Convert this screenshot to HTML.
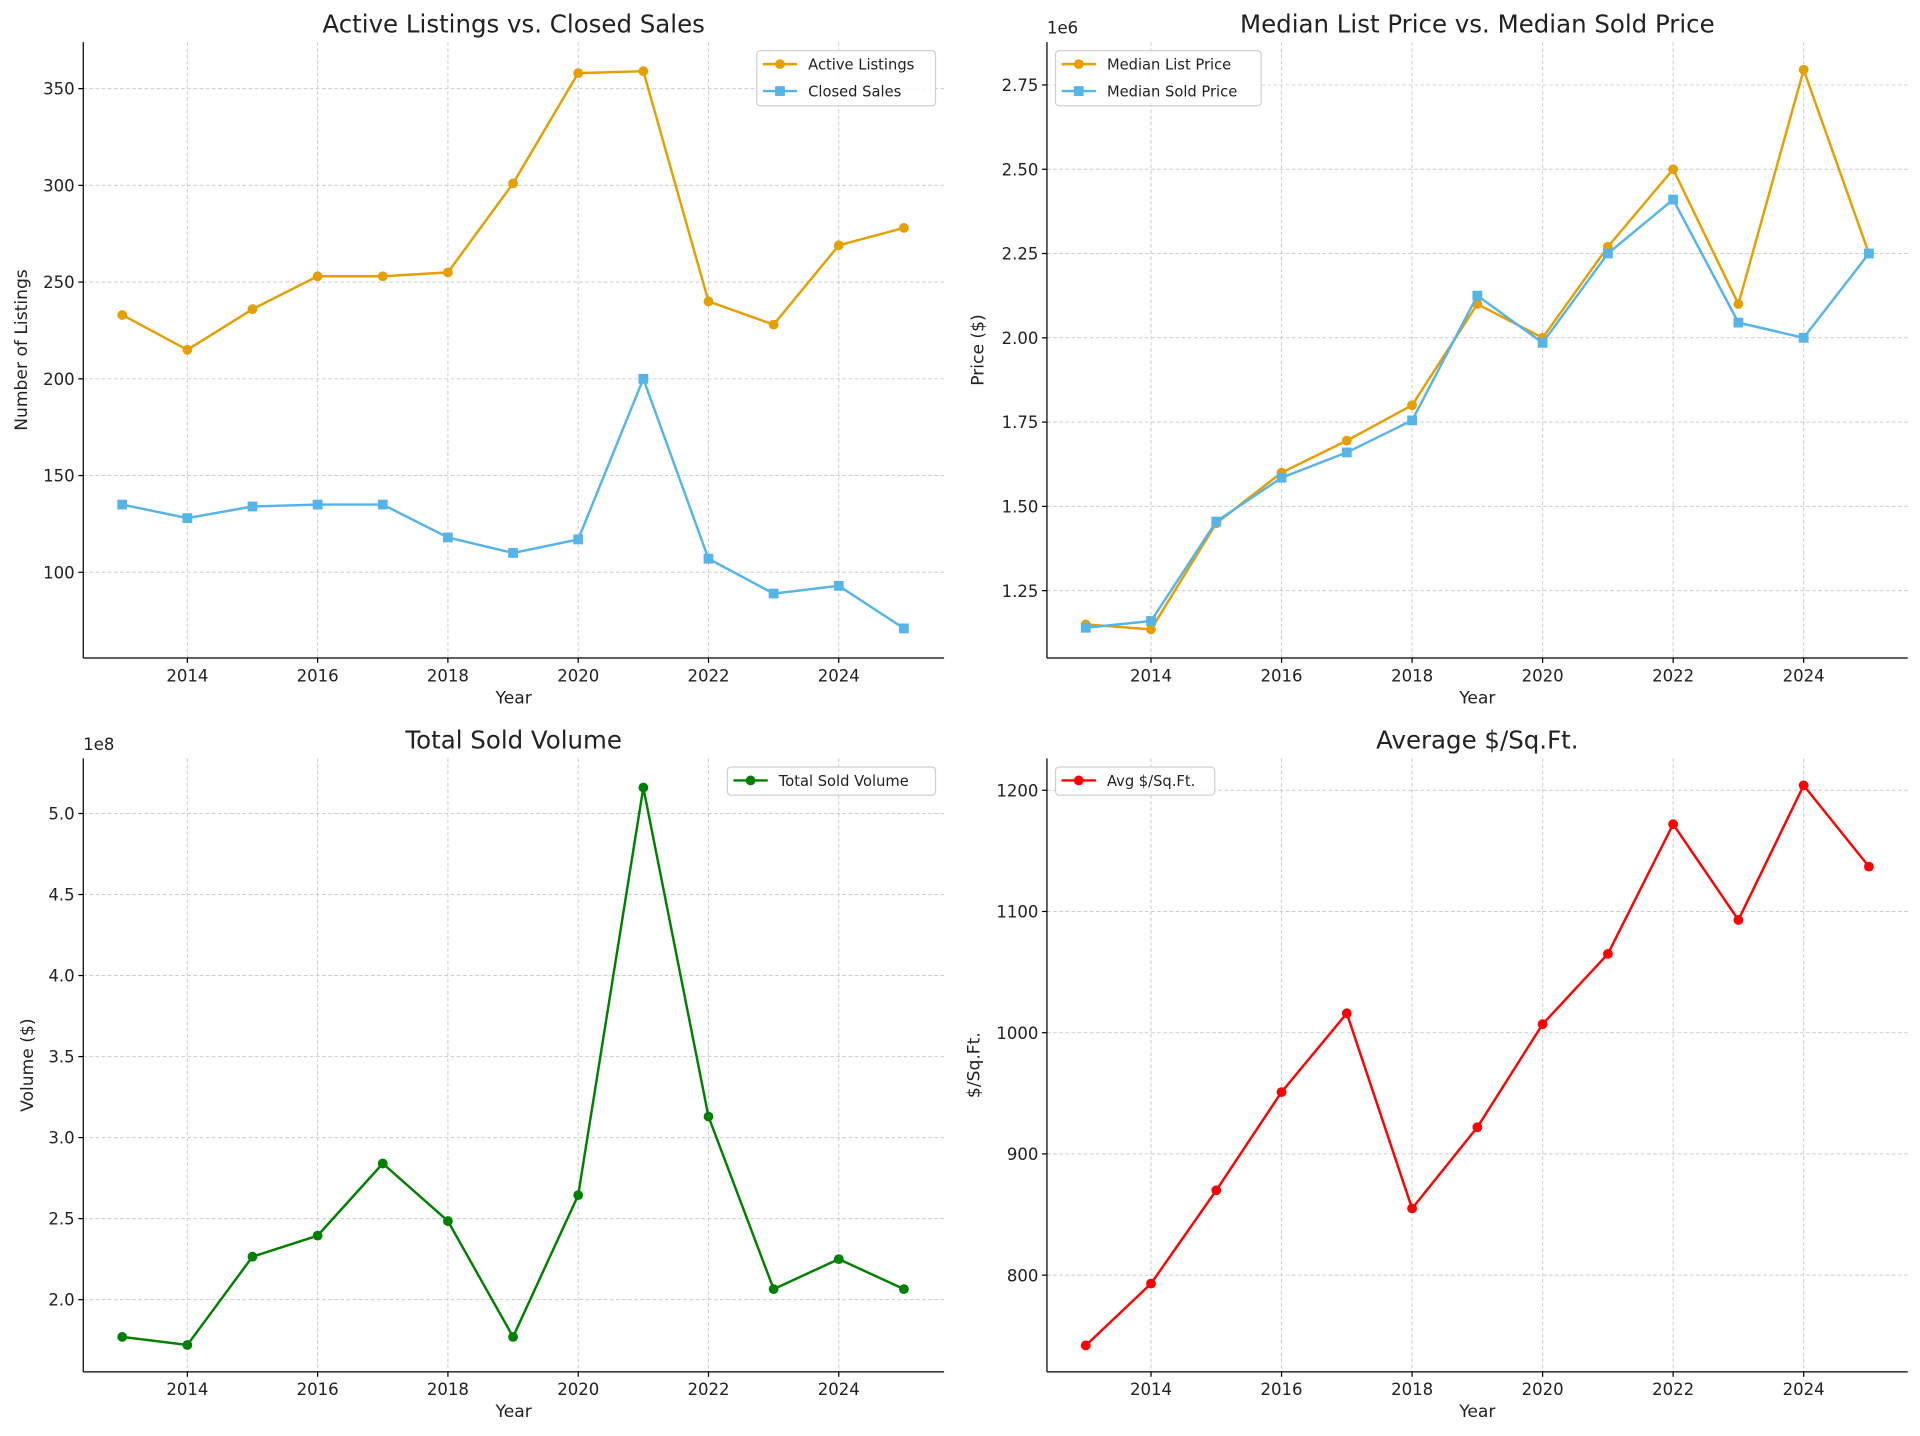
<!DOCTYPE html>
<html><head><meta charset="utf-8">
<style>
html,body{margin:0;padding:0;background:#fff;}
svg{display:block;font-family:"DejaVu Sans","Liberation Sans",sans-serif;}
</style></head>
<body>
<svg id="fig" width="1920" height="1436" viewBox="0 0 1568 1172" xmlns="http://www.w3.org/2000/svg"></svg>
<script>
const years=[2013,2014,2015,2016,2017,2018,2019,2020,2021,2022,2023,2024,2025];
const activeListings=[233,215,236,253,253,255,301,358,359,240,228,269,278];
const closedSales=[135,128,134,135,135,118,110,117,200,107,89,93,71];
const medianList=[1.15,1.135,1.45,1.6,1.695,1.8,2.1,2.0,2.27,2.5,2.1,2.795,2.25];
const medianSold=[1.14,1.16,1.455,1.585,1.66,1.755,2.125,1.985,2.25,2.41,2.045,2.0,2.25];
const soldVolume=[1.77,1.72,2.265,2.395,2.84,2.485,1.77,2.645,5.16,3.13,2.065,2.25,2.065];
const ppsf=[742,793,870,951,1016,855,922,1007,1065,1172,1093,1204,1137];
const xTicks=[2014,2016,2018,2020,2022,2024];
const yTicks1=[100,150,200,250,300,350];
const yTicks2=[1.25,1.5,1.75,2.0,2.25,2.5,2.75];
const yTicks3=[2.0,2.5,3.0,3.5,4.0,4.5,5.0];
const yTicks4=[800,900,1000,1100,1200];

const NS="http://www.w3.org/2000/svg";
const fig=document.getElementById('fig');
function el(tag,attrs,parent,text){const e=document.createElementNS(NS,tag);for(const k in attrs)e.setAttribute(k,attrs[k]);if(text!==undefined)e.textContent=text;(parent||fig).appendChild(e);return e;}

function panel(cfg){
  const g=el('g',{});
  
  
  const L=cfg.L,R=cfg.R,T=cfg.T,B=cfg.B;
  const xs=v=>cfg.x0px+(v-2014)*(cfg.x1px-cfg.x0px)/10;
  const ys=v=>cfg.y0px+(v-cfg.y0v)*(cfg.y1px-cfg.y0px)/(cfg.y1v-cfg.y0v);
  xTicks.forEach(t=>{const l=el('line',{x1:xs(t),x2:xs(t),y1:T,y2:B,stroke:'#cccccc','stroke-width':0.8,'stroke-dasharray':'3,2'},g);});
  cfg.yTicks.forEach(t=>{const l=el('line',{x1:L,x2:R,y1:ys(t),y2:ys(t),stroke:'#cccccc','stroke-width':0.8,'stroke-dasharray':'3,2'},g);});
  el('line',{x1:L,x2:L,y1:T,y2:B,stroke:'#000','stroke-width':1},g);
  el('line',{x1:L,x2:R,y1:B,y2:B,stroke:'#000','stroke-width':1},g);
  xTicks.forEach(t=>{el('line',{x1:xs(t),x2:xs(t),y1:B,y2:B+4,stroke:'#000'},g);
    const tx=el('text',{x:xs(t),y:B+19,'text-anchor':'middle','font-size':13.5,fill:'#222'},g,String(t));
    });
  cfg.yTicks.forEach(t=>{el('line',{x1:L-4,x2:L,y1:ys(t),y2:ys(t),stroke:'#000'},g);
    const tx=el('text',{x:L-7,y:ys(t)+5,'text-anchor':'end','font-size':13.5,fill:'#222'},g,cfg.fmt(t));
    });
  if(cfg.exp){const e=el('text',{x:L,y:T-7,'font-size':13.5,fill:'#222'},g,cfg.exp);}
  const ti=el('text',{x:(L+R)/2,y:T-8,'text-anchor':'middle','font-size':20,fill:'#222'},g,cfg.title);
  
  const xl=el('text',{x:(L+R)/2,y:B+37,'text-anchor':'middle','font-size':14,fill:'#222'},g,'Year');
  
  const ycx=cfg.ylabX,ycy=(T+B)/2;
  const yl=el('text',{x:ycx,y:ycy,'text-anchor':'middle','font-size':14,fill:'#222',transform:`rotate(-90 ${ycx} ${ycy})`},g,cfg.ylabel);
  
  cfg.series.forEach(s=>{
    const pts=years.map((y,i)=>xs(y)+','+ys(s.data[i])).join(' ');
    const pl=el('polyline',{points:pts,fill:'none',stroke:s.color,'stroke-width':2},g);
    
    years.forEach((y,i)=>{
      let m;
      if(s.marker==='s'){m=el('rect',{x:xs(y)-4,y:ys(s.data[i])-4,width:8,height:8,fill:s.color},g);}
      else{m=el('circle',{cx:xs(y),cy:ys(s.data[i]),r:4,fill:s.color},g);}
      
    });
  });
  const lg=el('g',{},g);
  
  const lw=cfg.legW,lh=1+cfg.series.length*22;
  const lx=cfg.legLeft?L+7:R-7-lw,ly=T+7;
  el('rect',{x:lx,y:ly,width:lw,height:lh,rx:3,fill:'#fff','fill-opacity':0.85,stroke:'#d0d0d0'},lg);
  cfg.series.forEach((s,i)=>{
    const cy=ly+11+i*22;
    el('line',{x1:lx+5,x2:lx+33,y1:cy,y2:cy,stroke:s.color,'stroke-width':2},lg);
    if(s.marker==='s')el('rect',{x:lx+15,y:cy-4,width:8,height:8,fill:s.color},lg);else el('circle',{cx:lx+19,cy:cy,r:4,fill:s.color},lg);
    const t=el('text',{x:lx+42,y:cy+4.5,'font-size':12,fill:'#222'},lg,s.label);
    
  });
}
const orange='#E69F00',blue='#56B4E9';
panel({name:'listings-vs-sales-chart',title:'Active Listings vs. Closed Sales',L:68,R:771,T:34,B:537,x0px:153,x1px:685,y0v:100,y0px:467,y1v:350,y1px:72,yTicks:yTicks1,fmt:t=>String(t),ylabel:'Number of Listings',ylabX:22,legW:146,legLeft:false,
  series:[{key:'active-listings',label:'Active Listings',data:activeListings,color:orange,marker:'o'},{key:'closed-sales',label:'Closed Sales',data:closedSales,color:blue,marker:'s'}]});
panel({name:'median-price-chart',title:'Median List Price vs. Median Sold Price',L:855,R:1558,T:34,B:537,x0px:940,x1px:1473,y0v:1.25,y0px:482,y1v:2.75,y1px:69,yTicks:yTicks2,fmt:t=>t.toFixed(2),exp:'1e6',ylabel:'Price ($)',ylabX:803,legW:168,legLeft:true,
  series:[{key:'median-list-price',label:'Median List Price',data:medianList,color:orange,marker:'o'},{key:'median-sold-price',label:'Median Sold Price',data:medianSold,color:blue,marker:'s'}]});
panel({name:'sold-volume-chart',title:'Total Sold Volume',L:68,R:771,T:619,B:1120,x0px:153,x1px:685,y0v:2.0,y0px:1061,y1v:5.0,y1px:664,yTicks:yTicks3,fmt:t=>t.toFixed(1),exp:'1e8',ylabel:'Volume ($)',ylabX:27,legW:170,legLeft:false,
  series:[{key:'total-sold-volume',label:'Total Sold Volume',data:soldVolume,color:'#008000',marker:'o'}]});
panel({name:'price-per-sqft-chart',title:'Average $/Sq.Ft.',L:855,R:1558,T:619,B:1120,x0px:940,x1px:1473,y0v:800,y0px:1041,y1v:1200,y1px:645,yTicks:yTicks4,fmt:t=>String(t),ylabel:'$/Sq.Ft.',ylabX:800,legW:130,legLeft:true,
  series:[{key:'avg-price-per-sqft',label:'Avg $/Sq.Ft.',data:ppsf,color:'#FF0000',marker:'o'}]});
</script>
</body></html>
